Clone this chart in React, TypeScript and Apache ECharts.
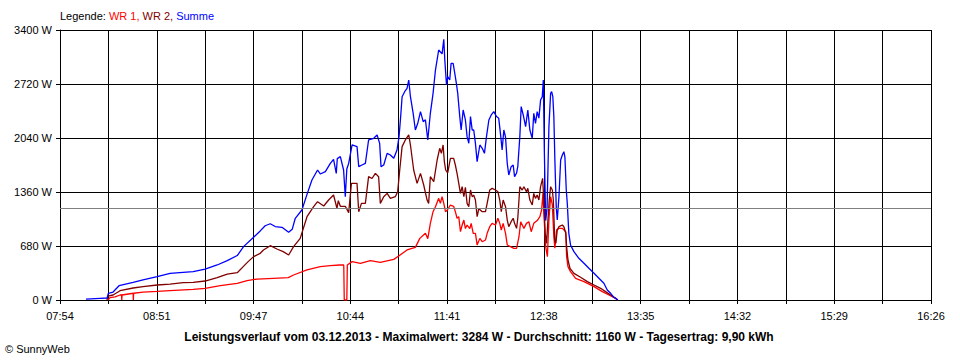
import React, { useEffect, useRef } from "react";
import * as echarts from "echarts";

// x values: minutes after 07:54, y values: W
const tickLabels = ["07:54", "08:51", "09:47", "10:44", "11:41", "12:38", "13:35", "14:32", "15:29", "16:26"];
const yMax = 3400;
const yStep = 680;
const spanMinutes = 512;
const average = 1160;

const wr1: number[][] = [
  [28.2, 0], [29.4, 30], [32.4, 40], [35.3, 63], [36.2, 63], [36.3, 0], [36.5, 63], [43.0, 85], [43.1, 0], [43.3, 85],
  [48.8, 100], [57.1, 108], [64.7, 117], [78.3, 134], [85.3, 147], [94.2, 180], [104.2, 210], [110.0, 245],
  [115.8, 264], [125.4, 273], [134.2, 281], [137.3, 315], [145.2, 378], [153.0, 420], [158.9, 432], [164.4, 441],
  [166.8, 441], [167.1, 0], [168.6, 0], [168.9, 441], [171.7, 483], [176.6, 462], [182.4, 495], [188.3, 475],
  [196.2, 512], [199.1, 554], [204.0, 630], [208.9, 663], [211.5, 776], [214.8, 840], [216.2, 772], [217.7, 965],
  [219.3, 1112], [220.7, 1175], [222.6, 1280], [223.6, 1217], [224.6, 1301], [225.6, 1217], [226.6, 1112],
  [227.6, 1130], [229.5, 1196], [231.4, 1180], [232.4, 1112], [233.4, 1029], [234.4, 1050], [235.4, 860],
  [236.4, 944], [237.4, 1007], [238.3, 900], [239.3, 944], [240.9, 900], [241.7, 965], [242.9, 840], [244.2, 840],
  [245.2, 693], [246.8, 776], [248.2, 734], [250.1, 755], [251.1, 840], [252.6, 923], [254.0, 965], [256.0, 944],
  [257.4, 1029], [258.5, 965], [259.4, 881], [260.5, 965], [261.9, 840], [262.9, 693], [264.8, 672], [266.8, 651],
  [268.4, 651], [269.8, 797], [270.8, 986], [272.7, 902], [274.2, 965], [275.6, 986], [277.0, 860], [278.5, 965],
  [280.5, 1000], [282.1, 1049], [283.1, 1133], [283.9, 1343], [284.4, 1100], [285.5, 672], [286.5, 546],
  [287.4, 1007], [288.4, 1301], [289.4, 1200], [290.3, 797], [290.9, 651], [291.9, 881], [293.3, 902], [295.3, 902],
  [297.3, 860], [297.8, 546], [298.6, 420], [300.1, 357], [303.1, 273], [308.0, 231], [313.9, 168], [318.8, 105],
  [322.7, 63], [326.6, 21], [327.8, 0],
];

const wr2: number[][] = [
  [27.6, 0], [28.2, 50], [31.2, 63], [35.3, 117], [43.0, 151], [48.8, 168], [57.1, 189], [64.7, 201], [72.4, 218],
  [78.3, 222], [85.3, 239], [92.4, 281], [98.3, 327], [104.2, 344], [107.7, 420], [110.6, 483], [113.8, 546],
  [117.7, 588], [119.6, 630], [123.6, 684], [127.5, 642], [131.2, 609], [134.4, 567], [137.3, 672], [141.2, 776],
  [145.2, 1049], [149.1, 1175], [151.4, 1238], [155.0, 1184], [157.9, 1259], [160.8, 1322], [162.8, 1155],
  [163.6, 1250], [164.8, 1180], [167.7, 1180], [169.7, 1100], [171.3, 1469], [174.6, 1469], [175.6, 1112],
  [177.2, 1217], [179.5, 1217], [181.4, 1553], [183.4, 1530], [185.4, 1595], [187.3, 1553], [188.3, 1217],
  [190.3, 1301], [192.3, 1343], [194.2, 1280], [197.1, 1301], [198.5, 1364], [199.7, 1637], [201.1, 1931],
  [203.0, 2015], [205.0, 2078], [206.0, 1952], [207.9, 1637], [209.9, 1469], [211.9, 1595], [213.8, 1448],
  [215.8, 1259], [216.7, 1217], [217.7, 1553], [219.7, 1490], [221.7, 1763], [223.2, 1910], [224.2, 1847],
  [225.2, 1952], [225.9, 1750], [226.7, 1637], [227.9, 1600], [229.5, 1784], [231.4, 1784], [232.4, 1700],
  [233.4, 1595], [234.4, 1469], [235.4, 1343], [236.4, 1427], [237.4, 1301], [238.3, 1420], [239.3, 1217],
  [240.3, 1175], [241.3, 1385], [242.3, 1301], [243.2, 1320], [244.2, 1259], [245.2, 1049], [246.2, 1150],
  [248.2, 1112], [250.1, 1112], [251.1, 1217], [252.6, 1385], [254.0, 1406], [256.0, 1385], [257.4, 1364],
  [258.5, 1259], [259.4, 1112], [260.5, 1259], [261.9, 1175], [262.9, 1007], [263.8, 923], [265.2, 986],
  [266.4, 1029], [267.2, 965], [268.4, 902], [269.1, 1029], [270.3, 1427], [271.7, 1385], [272.7, 1427],
  [274.2, 1364], [275.0, 1406], [276.2, 1259], [277.6, 1196], [278.5, 1343], [279.5, 1280], [280.5, 1322],
  [281.5, 1259], [282.5, 1427], [283.7, 1532], [284.4, 1259], [285.2, 840], [286.0, 714], [286.8, 1000],
  [287.6, 1259], [288.4, 1427], [289.4, 1385], [290.0, 1259], [290.8, 756], [291.5, 714], [292.3, 881],
  [293.3, 923], [295.3, 944], [296.2, 923], [297.3, 840], [297.8, 672], [298.6, 504], [299.8, 399], [302.1, 336],
  [306.0, 286], [310.0, 231], [313.9, 189], [317.8, 147], [320.7, 105], [323.7, 63], [326.6, 21], [327.8, 0],
];

const summe: number[][] = [
  [15.3, 10], [23.5, 20], [27.7, 25], [28.4, 84], [31.2, 100], [34.7, 180], [43.0, 222], [48.8, 252], [57.1, 294],
  [64.7, 336], [72.4, 348], [78.3, 357], [85.3, 390], [92.4, 441], [98.3, 495], [104.2, 560], [107.9, 672],
  [113.8, 790], [117.7, 870], [120.6, 935], [123.6, 960], [126.5, 925], [130.5, 915], [134.4, 852], [136.5, 890],
  [138.3, 1029], [142.2, 1133], [145.2, 1330], [148.1, 1511], [151.4, 1637], [153.0, 1587], [156.0, 1616],
  [158.9, 1721], [160.8, 1771], [162.4, 1595], [163.0, 1780], [164.8, 1805], [166.7, 1637], [167.7, 1301],
  [168.6, 1650], [169.7, 1721], [171.7, 1952], [174.6, 1931], [175.6, 1679], [177.5, 1700], [179.5, 1721],
  [181.4, 2015], [184.4, 2036], [186.4, 2078], [187.9, 1973], [188.7, 1679], [190.3, 1700], [192.3, 1847],
  [194.2, 1826], [196.2, 1784], [198.1, 1889], [199.3, 2057], [200.1, 2267], [201.1, 2560], [202.6, 2623],
  [204.0, 2665], [205.0, 2770], [206.0, 2560], [207.6, 2351], [208.9, 2141], [210.3, 2225], [211.9, 2372],
  [213.5, 2246], [214.8, 2270], [216.2, 2015], [217.7, 2351], [219.3, 2602], [220.7, 2896], [222.6, 3148],
  [224.6, 3100], [225.6, 3284], [226.2, 3022], [227.2, 2707], [227.9, 2812], [229.1, 2770], [229.9, 2980],
  [231.1, 2980], [231.9, 2875], [233.0, 2728], [233.8, 2602], [235.0, 2309], [235.8, 2141], [237.0, 2393],
  [238.3, 2267], [239.3, 2057], [240.3, 1973], [241.3, 2309], [242.3, 2141], [243.2, 2141], [244.2, 1973],
  [245.2, 1742], [246.8, 1952], [248.2, 1910], [249.5, 1847], [250.7, 2057], [252.1, 2267], [253.5, 2330],
  [255.0, 2372], [256.6, 2310], [257.9, 2288], [258.9, 2099], [259.9, 1889], [260.9, 2141], [261.9, 2050],
  [262.9, 1721], [263.8, 1574], [265.2, 1679], [266.4, 1700], [267.2, 1553], [268.4, 1600], [269.1, 1680],
  [270.3, 2057], [271.1, 2435], [272.3, 2330], [273.7, 2183], [275.0, 2393], [276.2, 2141], [277.6, 2036],
  [278.5, 2351], [279.5, 2225], [280.5, 2372], [281.5, 2290], [282.5, 2519], [283.5, 2560], [284.1, 2770],
  [284.7, 1889], [285.5, 1000], [286.3, 1150], [287.4, 2183], [288.4, 2602], [289.0, 2623], [289.7, 2560],
  [290.3, 2309], [290.9, 1763], [291.7, 1175], [292.3, 1007], [293.3, 1301], [294.3, 1763], [295.3, 1826],
  [296.2, 1868], [296.8, 1800], [297.6, 1385], [298.2, 1217], [299.1, 840], [300.1, 693], [302.1, 609],
  [305.0, 525], [308.0, 462], [310.9, 399], [313.9, 336], [316.8, 273], [319.7, 210], [321.7, 126], [323.7, 84],
  [325.6, 34], [328.0, 0],
];

const FONT = "'Liberation Sans', Arial, sans-serif";

export default function App() {
  const ref = useRef<HTMLDivElement>(null);
  useEffect(() => {
    document.body.style.margin = "0";
    if (!ref.current) return;
    const chart = echarts.init(ref.current, null, { renderer: "svg" });
    const xStep = spanMinutes / 18;
    chart.setOption({
      animation: false,
      grid: { left: 60, top: 30, right: 29, bottom: 60, containLabel: false },
      xAxis: {
        type: "value",
        min: 0,
        max: spanMinutes,
        interval: xStep,
        axisLine: { show: true, lineStyle: { color: "#000", width: 1 } },
        axisTick: { show: true, length: 4, lineStyle: { color: "#000" } },
        splitLine: { show: true, lineStyle: { color: "#000", width: 1 } },
        axisLabel: {
          color: "#000",
          fontSize: 11,
          fontFamily: FONT,
          margin: 10,
          showMinLabel: true,
          showMaxLabel: true,
          formatter: (v: number) => {
            const i = Math.round(v / xStep);
            return i % 2 === 0 ? tickLabels[i / 2] ?? "" : "";
          },
        },
      },
      yAxis: {
        type: "value",
        min: 0,
        max: yMax,
        interval: yStep,
        axisLine: { show: true, lineStyle: { color: "#000", width: 1 } },
        axisTick: { show: true, length: 4, lineStyle: { color: "#000" } },
        splitLine: { show: true, lineStyle: { color: "#000", width: 1 } },
        axisLabel: {
          color: "#000",
          fontSize: 11,
          fontFamily: FONT,
          margin: 8,
          formatter: (v: number) => `${Math.round(v)} W`,
        },
      },
      series: [
        {
          name: "WR 1",
          type: "line",
          data: wr1,
          showSymbol: false,
          symbol: "none",
          lineStyle: { color: "#ff0000", width: 1.3 },
          itemStyle: { color: "#ff0000" },
          markLine: {
            silent: true,
            symbol: "none",
            label: { show: false },
            lineStyle: { color: "#808080", width: 1, type: "solid" },
            data: [{ yAxis: average }],
          },
        },
        {
          name: "WR 2",
          type: "line",
          data: wr2,
          showSymbol: false,
          symbol: "none",
          lineStyle: { color: "#800000", width: 1.3 },
          itemStyle: { color: "#800000" },
        },
        {
          name: "Summe",
          type: "line",
          data: summe,
          showSymbol: false,
          symbol: "none",
          lineStyle: { color: "#0000ff", width: 1.3 },
          itemStyle: { color: "#0000ff" },
        },
      ],
      graphic: [
        {
          type: "text",
          left: 60,
          top: 10,
          style: {
            text: "{a|Legende: }{b|WR 1, }{c|WR 2, }{d|Summe}",
            fontSize: 11,
            fontFamily: FONT,
            rich: {
              a: { fill: "#000", fontSize: 11, fontFamily: FONT },
              b: { fill: "#ff0000", fontSize: 11, fontFamily: FONT },
              c: { fill: "#800000", fontSize: 11, fontFamily: FONT },
              d: { fill: "#0000ff", fontSize: 11, fontFamily: FONT },
            },
          },
        },
        {
          type: "text",
          x: 479,
          y: 337,
          style: {
            text: "Leistungsverlauf vom 03.12.2013 - Maximalwert: 3284 W - Durchschnitt: 1160 W - Tagesertrag: 9,90 kWh",
            fill: "#000",
            fontSize: 12,
            fontWeight: "bold",
            fontFamily: FONT,
            align: "center",
            verticalAlign: "middle",
          },
        },
        {
          type: "text",
          x: 5,
          y: 349,
          style: {
            text: "© SunnyWeb",
            fill: "#000",
            fontSize: 11,
            fontFamily: FONT,
            align: "left",
            verticalAlign: "middle",
          },
        },
      ],
    });
    return () => chart.dispose();
  }, []);
  return <div ref={ref} style={{ width: 960, height: 360 }} />;
}
